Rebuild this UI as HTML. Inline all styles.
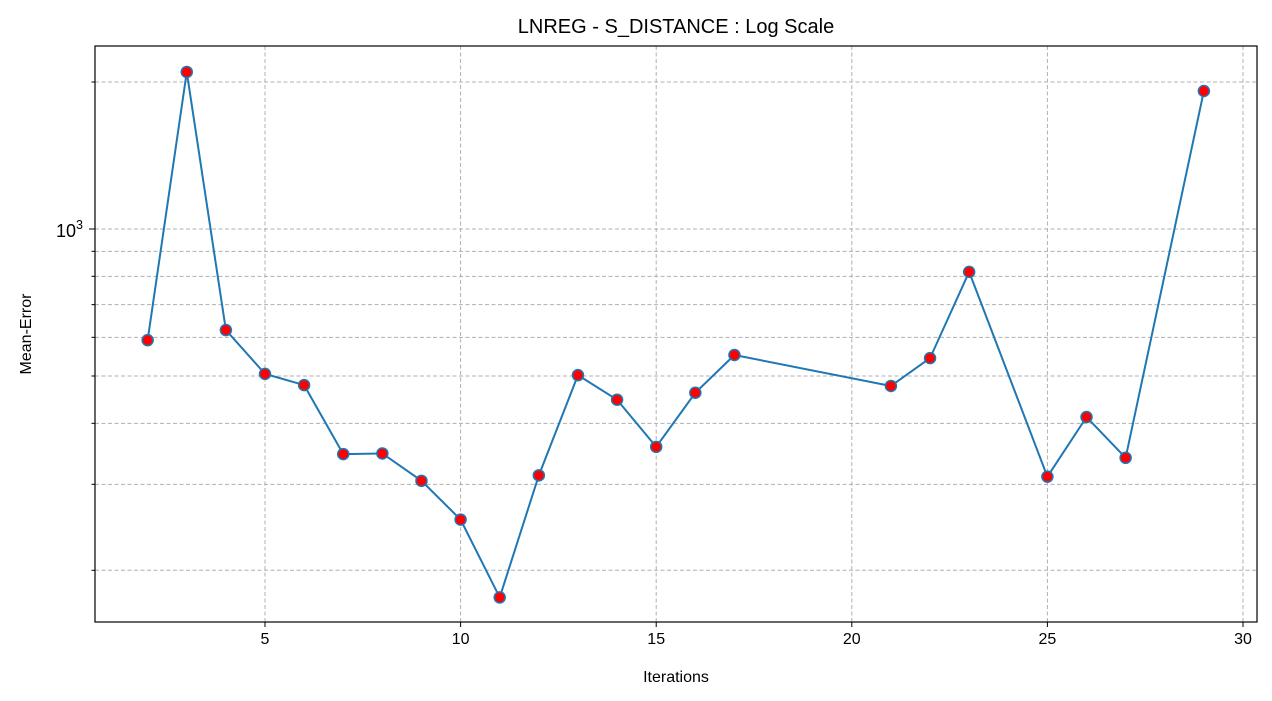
<!DOCTYPE html>
<html><head><meta charset="utf-8"><style>
body{margin:0;background:#fff;}
svg{display:block;font-family:"Liberation Sans","DejaVu Sans",sans-serif;}
</style></head><body>
<svg id="chart" width="1272" height="701" viewBox="0 0 1272 701"></svg>
<script>
const iterations=[2,3,4,5,6,7,8,9,10,11,12,13,14,15,16,17,21,22,23,25,26,27,29];
const meanError=[592,2097,621,505,479,346,347,305,254,176,313,502,447,358,462,552,477,544,817,311,412,340,1917];
const xTicks=[5,10,15,20,25,30];
const yMinor=[200,300,400,500,600,700,800,900,2000];
const NS="http://www.w3.org/2000/svg";
const svg=document.getElementById('chart');
const L=95,R=1257,T=46,B=622;
const xs=v=>265+(v-5)*(1243-265)/25;
const ys=v=>229-Math.log10(v/1000)*488.3;
function mk(tag,attrs,parent){const e=document.createElementNS(NS,tag);for(const k in attrs)e.setAttribute(k,attrs[k]);(parent||svg).appendChild(e);return e;}
const grid=mk('g',{});


xTicks.forEach(t=>{mk('line',{x1:xs(t),x2:xs(t),y1:T,y2:B,stroke:'#b0b0b0','stroke-dasharray':'4,2.5','stroke-width':1},grid);
 mk('line',{x1:xs(t),x2:xs(t),y1:B,y2:B+5,stroke:'#000','stroke-width':1},grid);
 const tx=mk('text',{x:xs(t),y:B+22,'text-anchor':'middle','font-size':16},grid);tx.textContent=t;
 
 });
yMinor.concat([1000]).forEach(v=>{mk('line',{x1:L,x2:R,y1:ys(v),y2:ys(v),stroke:'#b0b0b0','stroke-dasharray':'4,2.5','stroke-width':1},grid);
 mk('line',{x1:L,x2:L-(v===1000?6:3.5),y1:ys(v),y2:ys(v),stroke:'#000','stroke-width':1},grid);});
const yl=mk('text',{x:L-12,y:ys(1000)+8,'text-anchor':'end','font-size':18});
yl.innerHTML='10<tspan dy="-8" font-size="12.5">3</tspan>';


mk('rect',{x:L,y:T,width:R-L,height:B-T,fill:'none',stroke:'#000','stroke-width':1.2});
const pts=iterations.map((v,i)=>xs(v)+','+ys(meanError[i])).join(' ');
const line=mk('polyline',{points:pts,fill:'none',stroke:'#1f77b4','stroke-width':2});


iterations.forEach((v,i)=>{const c=mk('circle',{cx:xs(v),cy:ys(meanError[i]),r:5.5,fill:'red',stroke:'#1f77b4','stroke-width':1.5});
 
 });
const title=mk('text',{x:(L+R)/2,y:33,'text-anchor':'middle','font-size':20});title.textContent='LNREG - S_DISTANCE : Log Scale';


const xt=mk('text',{x:(L+R)/2,y:682,'text-anchor':'middle','font-size':16});xt.textContent='Iterations';


const yt=mk('text',{x:0,y:0,'text-anchor':'middle','font-size':16,transform:'translate(31,334) rotate(-90)'});yt.textContent='Mean-Error';


</script>
</body></html>
